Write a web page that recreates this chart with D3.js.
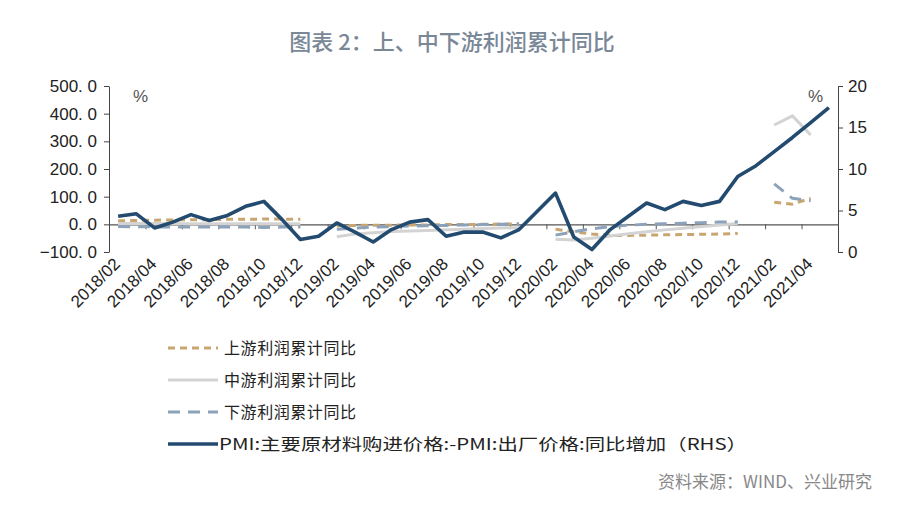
<!DOCTYPE html>
<html lang="zh">
<head>
<meta charset="UTF-8">
<title>上、中下游利润累计同比</title>
<script src="https://d3js.org/d3.v7.min.js"></script>
<style>
  body { margin: 0; background: #fff; }
  svg { display: block; }
  .num { font-family: "Liberation Sans", Arial, sans-serif; fill: #222; }
  .cjk { font-family: "Noto Sans CJK SC", sans-serif; }
</style>
</head>
<body>
<svg width="904" height="514"></svg>
<script>
// months on the category axis
const months = [
  "2018/02","2018/03","2018/04","2018/05","2018/06","2018/07","2018/08","2018/09","2018/10","2018/11",
  "2018/12","2019/01","2019/02","2019/03","2019/04","2019/05","2019/06","2019/07","2019/08","2019/09",
  "2019/10","2019/11","2019/12","2020/01","2020/02","2020/03","2020/04","2020/05","2020/06","2020/07",
  "2020/08","2020/09","2020/10","2020/11","2020/12","2021/01","2021/02","2021/03","2021/04","2021/05"
];

// left axis, %
const upstream = [
  13, 14, 15, 16, 17, 17, 18, 18, 19, 19, 18, null,
  -5, -4, -3, -3, -2, -2, -1, -1, 0, 1, 2, null,
  -18, -27, -35, -40, -40, -39, -38, -37, -36, -35, -33, null,
  80, 73, 94, null
];
const midstream = [
  3, 3, 3, 3, 2, 2, 2, 2, 2, 2, 2, null,
  -45, -35, -30, -26, -24, -22, -20, -18, -15, -13, -12, null,
  -54, -57, -50, -42, -34, -27, -20, -14, -8, -2, 3, null,
  359, 392, 323, null
];
const downstream = [
  -8, -9, -9, -10, -10, -10, -10, -10, -11, -10, -10, null,
  -18, -14, -10, -8, -6, -5, -4, -2, -1, 0, 1, null,
  -39, -27, -16, -8, -3, 0, 2, 4, 6, 8, 9, null,
  146, 94, 85, null
];
// right axis, %
const pmiGap = [
  4.3, 4.6, 2.9, 3.6, 4.5, 3.8, 4.4, 5.5, 6.1, 3.9, 1.5, 1.9,
  3.5, 2.4, 1.2, 2.7, 3.6, 3.9, 1.9, 2.4, 2.4, 1.7, 2.7, 4.9,
  7.1, 1.8, 0.3, 2.7, 4.3, 5.9, 5.1, 6.1, 5.6, 6.1, 9.1, 10.4,
  12.1, 13.8, 15.6, 17.4
];

const leftTicks = [-100, 0, 100, 200, 300, 400, 500];
const rightTicks = [0, 5, 10, 15, 20];

const series = [
  { name: "上游利润累计同比", values: upstream, axis: "L", color: "#c9a670", width: 3, dash: "7,5" },
  { name: "中游利润累计同比", values: midstream, axis: "L", color: "#d3d3d3", width: 3, dash: null },
  { name: "下游利润累计同比", values: downstream, axis: "L", color: "#8ba2ba", width: 3, dash: "12,8" },
  { name: "PMI:主要原材料购进价格:-PMI:出厂价格:同比增加（RHS）", values: pmiGap, axis: "R", color: "#234a6f", width: 3.6, dash: null }
];

const svg = d3.select("svg");
const plot = { left: 109, right: 838, top: 86, bottom: 252 };

const x = d3.scaleBand().domain(months).range([plot.left, plot.right]);
const cx = m => x(m) + x.bandwidth() / 2;
const yL = d3.scaleLinear().domain([-100, 500]).range([plot.bottom, plot.top]);
const yR = d3.scaleLinear().domain([0, 20]).range([plot.bottom, plot.top]);

// title
svg.append("text")
    .attr("class", "cjk")
    .attr("x", 452).attr("y", 50)
    .attr("text-anchor", "middle")
    .attr("font-size", 22).attr("font-weight", 500)
    .attr("fill", "#7a8797")
    .text("图表 2：上、中下游利润累计同比");

// left axis
const gL = svg.append("g")
    .attr("transform", `translate(${plot.left},0)`)
    .call(d3.axisLeft(yL).tickValues(leftTicks).tickSize(5).tickSizeOuter(0)
        .tickFormat(d => d3.format(".1f")(d).replace(".", ". ")));
gL.selectAll("text").attr("class", "num").attr("font-size", 17).attr("x", -12);

// right axis
const gR = svg.append("g")
    .attr("transform", `translate(${plot.right},0)`)
    .call(d3.axisRight(yR).tickValues(rightTicks).tickSize(5).tickSizeOuter(0));
gR.selectAll("text").attr("class", "num").attr("font-size", 17).attr("x", 10);

[gL, gR].forEach(g => {
    g.select(".domain").attr("stroke", "#444");
    g.selectAll(".tick line").attr("stroke", "#444");
});

// zero line with ticks at every second category boundary
const xb = d3.scaleLinear().domain([0, months.length]).range([plot.left, plot.right]);
const gX = svg.append("g")
    .attr("transform", `translate(0,${yL(0)})`)
    .call(d3.axisBottom(xb).tickValues(d3.range(2, months.length, 2)).tickSize(5).tickSizeOuter(0).tickFormat(""));
gX.select(".domain").attr("stroke", "#555").attr("stroke-width", 1.2);
gX.selectAll(".tick line").attr("stroke", "#555");

// month labels
svg.append("g").selectAll("text")
    .data(months.filter((m, i) => i % 2 === 0))
  .enter().append("text")
    .attr("class", "num")
    .attr("font-size", 17)
    .attr("text-anchor", "end")
    .attr("transform", d => `translate(${cx(d) + 3},${plot.bottom + 13}) rotate(-45)`)
    .text(d => d);

// % units
svg.append("text").attr("class", "num").attr("x", 133).attr("y", 102)
    .attr("font-size", 17).style("fill", "#555").text("%");
svg.append("text").attr("class", "num").attr("x", 808).attr("y", 102)
    .attr("font-size", 17).style("fill", "#555").text("%");

// lines
series.forEach(s => {
    const y = s.axis === "L" ? yL : yR;
    const line = d3.line()
        .defined(d => d[1] != null)
        .x(d => cx(d[0]))
        .y(d => y(d[1]));
    svg.append("path")
        .datum(months.map((m, i) => [m, s.values[i]]))
        .attr("fill", "none")
        .attr("stroke", s.color)
        .attr("stroke-width", s.width)
        .attr("stroke-dasharray", s.dash)
        .attr("stroke-linejoin", "round")
        .attr("d", line);
});

// legend
const legendRows = [348, 380, 412, 444];
const legend = svg.append("g");
series.forEach((s, i) => {
    legend.append("line")
        .attr("x1", 168).attr("x2", 218)
        .attr("y1", legendRows[i]).attr("y2", legendRows[i])
        .attr("stroke", s.color)
        .attr("stroke-width", s.width)
        .attr("stroke-dasharray", s.dash);
    const t = legend.append("text")
        .attr("class", "cjk")
        .attr("x", i === 3 ? 219 : 224)
        .attr("y", legendRows[i] + 6)
        .attr("font-size", 16)
        .attr("fill", "#222")
        .text(s.name);
    if (i < 3) t.attr("textLength", 132).attr("lengthAdjust", "spacing");
    else t.attr("textLength", 528).attr("lengthAdjust", "spacingAndGlyphs");
});

// source
svg.append("text")
    .attr("class", "cjk")
    .attr("x", 872).attr("y", 488)
    .attr("text-anchor", "end")
    .attr("font-size", 17)
    .attr("fill", "#888")
    .text("资料来源：WIND、兴业研究");
</script>
</body>
</html>
